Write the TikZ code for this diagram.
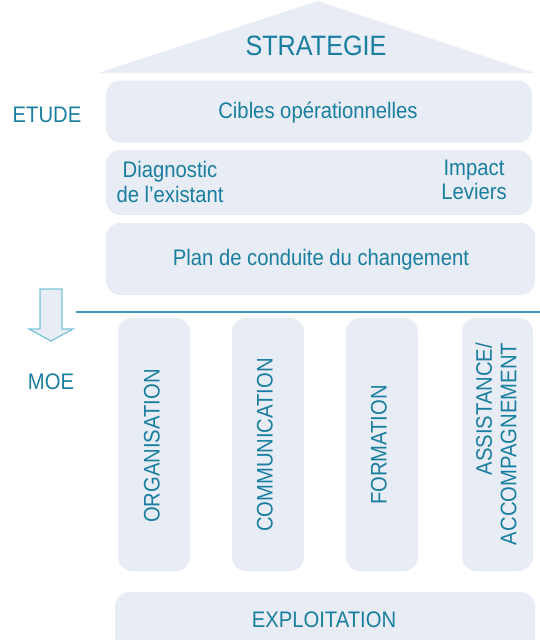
\documentclass[tikz,border=0pt]{standalone}
\usepackage{fontspec}
\setmainfont{Liberation Sans}
\newfontfamily\narrowfont[FakeStretch=0.9]{Liberation Sans}
\definecolor{boxfill}{RGB}{232,236,244}
\definecolor{txt}{RGB}{26,126,160}
\definecolor{rule}{RGB}{60,152,190}
\definecolor{arrowline}{RGB}{120,196,216}
\tikzset{
  pbox/.style={fill=boxfill, draw=none, rounded corners=14pt, inner sep=0pt},
  lbl/.style={text=txt, font=\narrowfont\fontsize{22.5}{24.5}\selectfont, inner sep=0pt, align=center},
  big/.style={text=txt, font=\narrowfont\fontsize{28}{30}\selectfont, inner sep=0pt},
  vlbl/.style={lbl, rotate=90},
}
\begin{document}
\begin{tikzpicture}[x=1pt,y=-1pt]
\clip (0,0) rectangle (540,640);
\useasboundingbox (0,0) rectangle (540,640);
% roof
\coordinate (apex) at (318,1);
\coordinate (roofL) at (98,73);
\coordinate (roofR) at (535,73);
\fill[boxfill] (roofL) -- (apex) -- (roofR) -- cycle;
\node[big] (strat) at (316,46) {STRATEGIE};
% side labels
\node[lbl] (etude) at (47,115) {ETUDE};
\node[lbl] (moe) at (51,382) {MOE};
% study boxes
\node[pbox, minimum width=426pt, minimum height=62pt] (cibles) at (319,111.5) {};
\node[lbl] (ciblesT) at (318,113) {Cibles opérationnelles};
\node[pbox, minimum width=426pt, minimum height=65pt] (diag) at (319,182.5) {};
\node[lbl] (diagT) at (170,182) {Diagnostic\\de l’existant};
\node[lbl] (impT) at (474,180) {Impact\\Leviers};
\node[pbox, minimum width=429pt, minimum height=72pt] (plan) at (320.5,259) {};
\node[lbl] (planT) at (321,260) {Plan de conduite du changement};
% separator line
\coordinate (lineL) at (76,312);
\coordinate (lineR) at (540,312);
\draw[rule, line width=1.2pt] (lineL) -- (lineR);
% block arrow
\filldraw[fill=boxfill, draw=arrowline, line width=1.2pt, line join=miter]
  (40,289) -- (62,289) -- (62,329) -- (73,329) -- (51,341) -- (29,329) -- (40,329) -- cycle;
% columns
\node[pbox, minimum width=72pt, minimum height=253pt] (c1) at (154,444.5) {};
\node[pbox, minimum width=72pt, minimum height=253pt] (c2) at (268,444.5) {};
\node[pbox, minimum width=72pt, minimum height=253pt] (c3) at (382,444.5) {};
\node[pbox, minimum width=71pt, minimum height=253pt] (c4) at (497.5,444.5) {};
\node[vlbl] (c1T) at (152,446) {ORGANISATION};
\node[vlbl] (c2T) at (265,445) {COMMUNICATION};
\node[vlbl] (c3T) at (379,445) {FORMATION};
\node[vlbl, align=right] (c4T) at (496,444) {ASSISTANCE/\\ACCOMPAGNEMENT};
% exploitation
\node[pbox, minimum width=420pt, minimum height=80pt, anchor=north] (expl) at (325,592) {};
\node[lbl] (explT) at (324,620) {EXPLOITATION};
\end{tikzpicture}
\end{document}
